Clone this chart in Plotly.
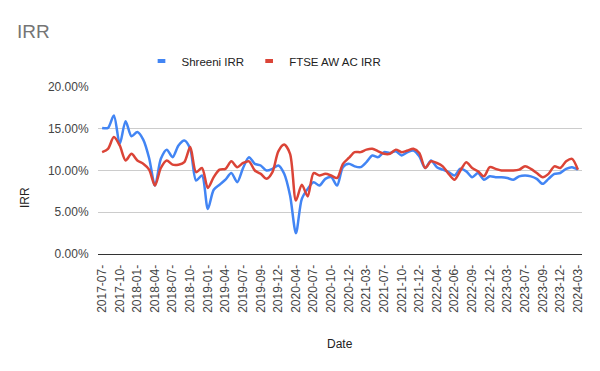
import plotly.graph_objects as go

tick_labels = ["2017-07-", "2017-10-", "2018-01-", "2018-04-", "2018-07-", "2018-10-",
               "2019-01-", "2019-04-", "2019-07-", "2019-09-", "2019-12-", "2020-04-",
               "2020-07-", "2020-10-", "2020-12-", "2021-03-", "2021-07-", "2021-10-",
               "2021-12-", "2022-04-", "2022-06-", "2022-09-", "2022-12-", "2023-03-",
               "2023-07-", "2023-09-", "2023-12-", "2024-03-"]

shreeni_irr = [15.1, 15.1, 16.6, 13.2, 15.9, 14.1, 14.6, 13.7, 11.5, 8.2,
               11.4, 12.5, 11.6, 13.0, 13.6, 12.6, 8.8, 9.4, 5.4, 7.7,
               8.3, 8.9, 9.7, 8.6, 10.3, 11.6, 10.8, 10.6, 10.0, 10.2,
               10.6, 9.6, 7.0, 2.5, 6.6, 7.8, 8.6, 8.2, 9.0, 9.2,
               8.2, 10.4, 10.8, 10.5, 10.4, 11.0, 11.8, 11.6, 12.2, 12.1,
               12.3, 11.8, 12.2, 12.4, 11.7, 10.3, 11.2, 10.4, 10.1, 9.8,
               9.4, 10.2, 9.9, 9.2, 9.7, 8.9, 9.3, 9.2, 9.2, 9.1,
               8.9, 9.3, 9.4, 9.3, 9.0, 8.4, 9.0, 9.6, 9.7, 10.2,
               10.4, 10.1]

ftse_irr = [12.2, 12.6, 14.0, 13.0, 11.2, 12.0, 11.2, 10.8, 10.1, 8.2,
            10.3, 11.2, 10.7, 10.7, 11.0, 12.8, 9.8, 10.3, 7.9, 9.2,
            10.1, 10.2, 11.1, 10.4, 10.9, 11.1, 10.0, 9.6, 9.0, 9.8,
            12.3, 13.1, 12.0, 6.4, 8.3, 6.9, 9.7, 9.4, 9.6, 9.4,
            9.1, 10.8, 11.5, 12.2, 12.2, 12.5, 12.6, 12.3, 12.0, 12.0,
            12.5, 12.2, 12.4, 12.6, 12.1, 10.3, 11.1, 10.9, 10.5, 9.6,
            8.9, 10.0, 11.0, 10.3, 9.9, 9.3, 10.4, 10.2, 10.0, 10.0,
            10.0, 10.1, 10.5, 10.2, 9.7, 9.2, 9.6, 10.5, 10.3, 11.1,
            11.4, 10.1]

series_names = ["Shreeni IRR", "FTSE AW AC IRR"]
colors = ["#4285F4", "#DB4437"]

x = list(range(len(shreeni_irr)))
tick_step = 3

FONT = "Liberation Sans, Arial, sans-serif"

fig = go.Figure()
for name, vals, col in zip(series_names, [shreeni_irr, ftse_irr], colors):
    fig.add_trace(go.Scatter(x=x, y=vals, mode="lines", name=name,
                             line=dict(color=col, width=2.5, shape="spline", smoothing=0.8),
                             showlegend=False, hoverinfo="skip"))
    fig.add_trace(go.Scatter(x=[None], y=[None], mode="markers", name=name,
                             marker=dict(symbol="line-ew", size=5.5,
                                         line=dict(color=col, width=4)),
                             showlegend=True))

fig.update_layout(
    width=600, height=371,
    margin=dict(l=98, r=18, t=87, b=117, autoexpand=False),
    paper_bgcolor="white", plot_bgcolor="white",
    font=dict(family=FONT, size=12, color="#444444"),
    title=dict(text="IRR", x=17 / 600, xanchor="left", y=1 - 31 / 371, yanchor="middle",
               xref="container", yref="container",
               font=dict(family=FONT, size=19, color="#757575")),
    legend=dict(orientation="h", xref="container", yref="container",
                x=0.44, xanchor="center", y=1 - 61 / 371, yanchor="middle",
                font=dict(family=FONT, size=11.5, color="#222222"),
                itemwidth=30, tracegroupgap=0, bgcolor="rgba(0,0,0,0)"),
    showlegend=True,
)

fig.update_xaxes(
    range=[-0.7, len(x) - 1 + 0.7],
    tickmode="array",
    tickvals=x[::tick_step],
    ticktext=tick_labels,
    tickangle=-90,
    ticks="outside", ticklen=5, tickcolor="rgba(0,0,0,0)",
    showgrid=False, zeroline=False,
    showline=True, linecolor="#333333", linewidth=1,
    tickfont=dict(family=FONT, size=12, color="#444444"),
)
fig.update_yaxes(
    range=[0, 20],
    tickmode="array",
    tickvals=[0, 5, 10, 15, 20],
    ticktext=["0.00%", "5.00%", "10.00%", "15.00%", "20.00%"],
    ticks="outside", ticklen=6, tickcolor="rgba(0,0,0,0)",
    showgrid=True, gridcolor="#cccccc", gridwidth=1,
    zeroline=False, showline=False,
    tickfont=dict(family=FONT, size=12, color="#444444"),
)

fig.add_annotation(text="IRR", xref="paper", yref="paper",
                   x=-(98 - 25) / 484, y=(254 - 198) / 167, textangle=-90,
                   showarrow=False, xanchor="center", yanchor="middle",
                   font=dict(family=FONT, size=12, color="#222222"))
fig.add_annotation(text="Date", xref="paper", yref="paper",
                   x=0.5, y=-(344 - 254) / 167,
                   showarrow=False, xanchor="center", yanchor="middle",
                   font=dict(family=FONT, size=12, color="#222222"))

fig.write_html("out.html", config={"displayModeBar": False},
               post_script="document.body.style.margin='0';")
